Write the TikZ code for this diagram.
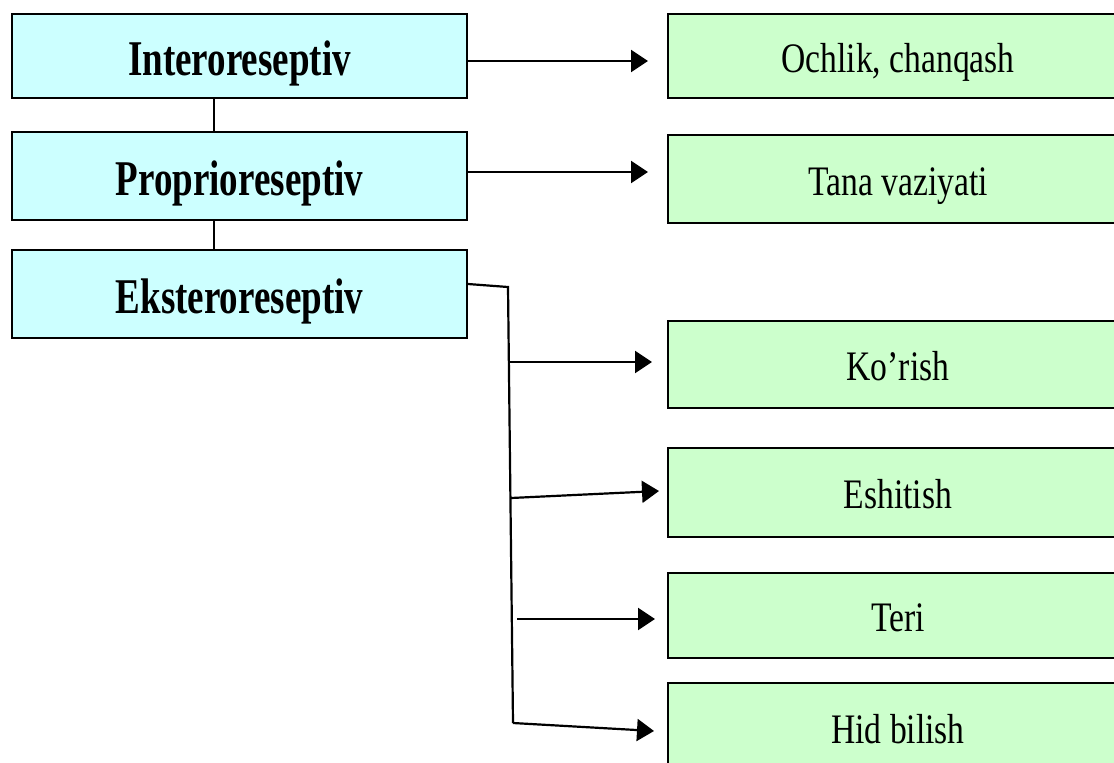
\documentclass[tikz,border=0pt]{standalone}
\usepackage{fontspec}
\setmainfont{Liberation Serif}
\usetikzlibrary{arrows.meta}
\definecolor{cyanfill}{HTML}{CCFFFF}
\definecolor{greenfill}{HTML}{CCFFCC}
\tikzset{
  lbox/.style={draw=black, line width=2pt, fill=cyanfill, minimum width=455pt, inner sep=0pt, text height=38pt, text depth=0pt, font=\fontsize{50}{50}\selectfont\bfseries},
  rbox/.style={draw=black, line width=2pt, fill=greenfill, minimum width=460pt, inner sep=0pt, text height=32pt, text depth=0pt, font=\fontsize{42}{42}\selectfont},
  conn/.style={draw=black, line width=2.2pt},
  arr/.style={conn, -{Triangle[length=17pt,width=22pt]}}
}
\newcommand{\nx}[1]{\scalebox{0.74}[1]{#1}}
\newcommand{\rx}[1]{\scalebox{0.80}[1]{#1}}
\begin{document}
\begin{tikzpicture}[x=1pt,y=-1pt]
\useasboundingbox (0,0) rectangle (1114,763);
\clip (0,0) rectangle (1114,763);
\fill[white] (0,0) rectangle (1114,763);
% left column
\node[lbox, minimum height=84pt] (L1) at (239.5,56) {\nx{Interoreseptiv}};
\node[lbox, minimum height=88pt] (L2) at (239.5,176) {\nx{Proprioreseptiv}};
\node[lbox, minimum height=88pt] (L3) at (239.5,294) {\nx{Eksteroreseptiv}};
% right column
\node[rbox, minimum height=84pt] (R1) at (898,56) {\rx{Ochlik, chanqash}};
\node[rbox, minimum height=88pt] (R2) at (898,179) {\rx{Tana vaziyati}};
\node[rbox, minimum height=87pt] (R3) at (898,364.5) {\rx{Ko’rish}};
\node[rbox, minimum height=89pt] (R4) at (898,492.5) {\rx{Eshitish}};
\node[rbox, minimum height=85pt] (R5) at (898,615.5) {\rx{Teri}};
\node[rbox, minimum height=88pt] (R6) at (898,727) {\rx{Hid bilish}};
% vertical links between left boxes
\coordinate (vx) at (214,0);
\draw[conn] (L1.south -| vx) -- (L2.north -| vx);
\draw[conn] (L2.south -| vx) -- (L3.north -| vx);
% arrows
\coordinate (t1) at (648,61);
\coordinate (t2) at (648,172);
\draw[arr] (L1.east |- t1) -- (t1);
\draw[arr] (L2.east |- t2) -- (t2);
% bracket from Eksteroreseptiv
\coordinate (b0) at (508,287);
\coordinate (b4) at (513,723);
\coordinate (c1) at (510,362);
\coordinate (t3) at (652,362);
\coordinate (c2) at (511,498);
\coordinate (t4) at (659,491);
\coordinate (c3) at (517,619);
\coordinate (t5) at (655,619);
\coordinate (t6) at (654,731);
\coordinate (s0) at (0,284);
\draw[conn] (L3.east |- s0) -- (b0) -- (b4);
\draw[arr] (c1) -- (t3);
\draw[arr] (c2) -- (t4);
\draw[arr] (c3) -- (t5);
\draw[arr] (b4) -- (t6);
\end{tikzpicture}
\end{document}
